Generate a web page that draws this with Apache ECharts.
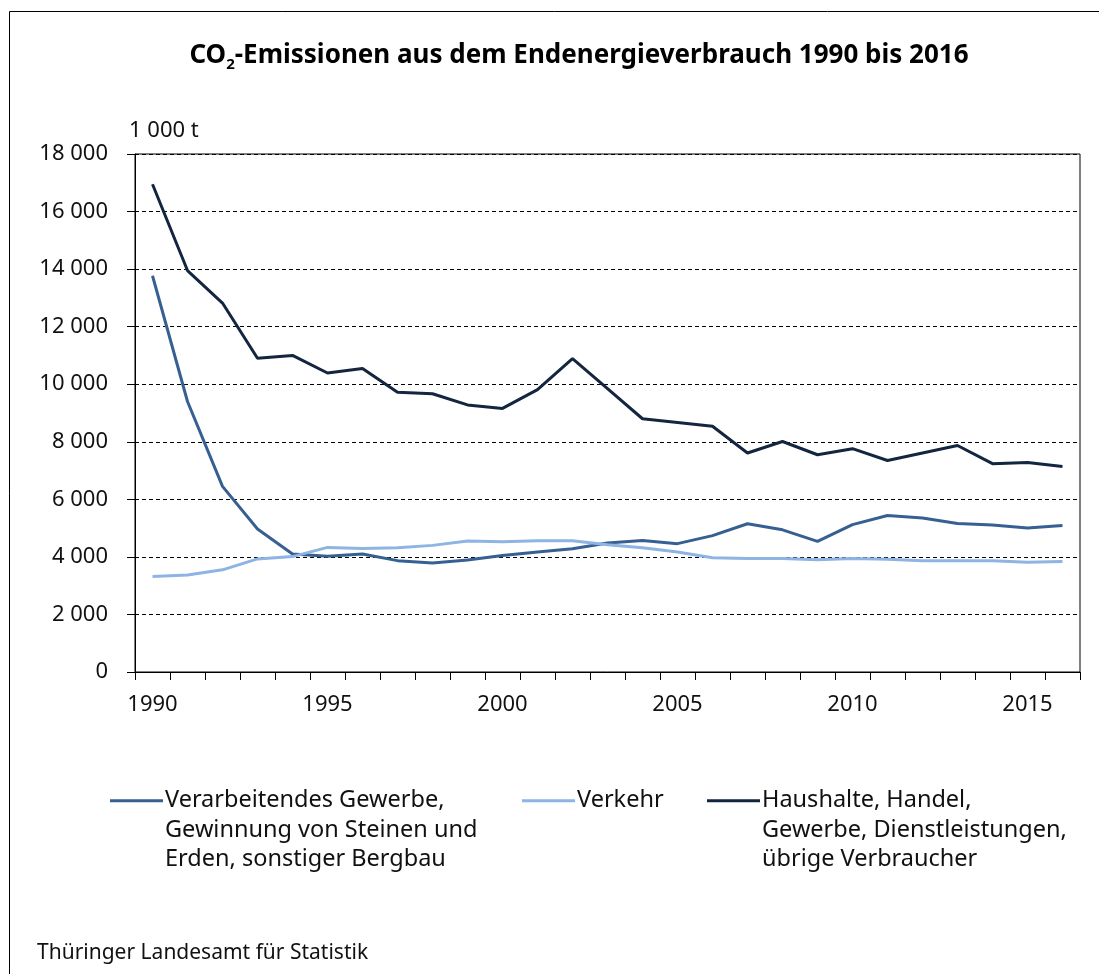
<!DOCTYPE html>
<html>
<head>
<meta charset="utf-8">
<script src="https://cdn.jsdelivr.net/npm/echarts@6/dist/echarts.min.js"></script>
<style>
  html, body { margin: 0; padding: 0; background: #fff; }
  #chart { width: 1099px; height: 974px; }
</style>
</head>
<body>
<div id="chart"></div>
<script>
const years = [];
for (let y = 1990; y <= 2016; y++) years.push(String(y));

// 1 000 t
const gewerbe = [13770, 9400, 6450, 4970, 4100, 4020, 4100, 3870, 3790, 3890,
  4050, 4170, 4280, 4480, 4570, 4460, 4740, 5150, 4940, 4540,
  5120, 5440, 5350, 5160, 5110, 5000, 5090];
const verkehr = [3320, 3370, 3550, 3930, 4010, 4330, 4290, 4320, 4400, 4550,
  4530, 4560, 4560, 4420, 4320, 4170, 3970, 3940, 3940, 3900,
  3940, 3920, 3870, 3870, 3870, 3810, 3840];
const haushalte = [16950, 13950, 12820, 10900, 11000, 10390, 10550, 9720, 9670, 9280,
  9160, 9810, 10890, 9850, 8800, 8670, 8540, 7610, 8010, 7550,
  7760, 7350, 7610, 7870, 7240, 7280, 7140];

const names = [
  'Verarbeitendes Gewerbe,\nGewinnung von Steinen und\nErden, sonstiger Bergbau',
  'Verkehr',
  'Haushalte, Handel,\nGewerbe, Dienstleistungen,\nübrige Verbraucher'
];
const colors = ['#366092', '#8db4e2', '#13253f'];

const FONT = 'Noto Sans';
const fmt = v => String(v).replace(/\B(?=(\d{3})+(?!\d))/g, ' ');

// Icon für mehrzeilige Legende: Linie oben, damit sie an der ersten Zeile sitzt
const topLineIcon = 'path://M0,0H53V3H0Z M0,61.9H0.1V62H0Z';

const myChart = echarts.init(document.getElementById('chart'));

const legendBase = {
  top: 786,
  padding: 0,
  itemGap: 0,
  itemWidth: 53,
  itemHeight: 62,
  icon: topLineIcon,
  selectedMode: false,
  textStyle: { fontFamily: FONT, fontSize: 23.5, color: '#111', lineHeight: 29.5, padding: [0, 0, 0, -3] }
};

const option = {
  animation: false,
  backgroundColor: '#fff',
  title: {
    text: 'CO{sub|2}-Emissionen aus dem Endenergieverbrauch 1990 bis 2016',
    left: 574,
    textAlign: 'center',
    top: 34,
    textStyle: {
      fontFamily: FONT, fontSize: 26, fontWeight: 'bold', color: '#000',
      rich: {
        sub: { fontFamily: FONT, fontSize: 15, fontWeight: 'bold', color: '#000', padding: [18, 0, 0, 0] }
      }
    }
  },
  graphic: [
    { type: 'rect', shape: { x: 9.5, y: 11.5, width: 1200, height: 1100 },
      style: { fill: 'none', stroke: '#000', lineWidth: 1 }, silent: true },
    { type: 'text', left: 37, top: 943,
      style: { text: 'Thüringer Landesamt für Statistik', fontFamily: FONT, fontSize: 21, fill: '#111' } }
  ],
  legend: [
    Object.assign({}, legendBase, { left: 110, data: [names[0]] }),
    Object.assign({}, legendBase, { left: 522, data: [names[1]], icon: 'rect', itemHeight: 3 }),
    Object.assign({}, legendBase, { left: 707, data: [names[2]] })
  ],
  grid: {
    left: 135, right: 19, top: 154, bottom: 302,
    show: true, borderColor: '#000', borderWidth: 1, backgroundColor: 'transparent'
  },
  xAxis: {
    type: 'category',
    data: years,
    boundaryGap: true,
    axisLine: { lineStyle: { color: '#000', width: 1 } },
    axisTick: { show: true, interval: 0, length: 8, lineStyle: { color: '#000' } },
    axisLabel: { interval: 4, margin: 22, fontFamily: FONT, fontSize: 22, color: '#111' },
    splitLine: { show: false }
  },
  yAxis: {
    type: 'value',
    min: 0, max: 18000, interval: 2000,
    name: '1 000 t',
    nameLocation: 'end',
    nameGap: 12,
    nameTextStyle: { fontFamily: FONT, fontSize: 22, color: '#111', align: 'left', padding: [0, 0, 0, -6] },
    axisLine: { show: true, lineStyle: { color: '#000', width: 1 } },
    axisTick: { show: true, length: 8, lineStyle: { color: '#000' } },
    axisLabel: { margin: 27, fontFamily: FONT, fontSize: 22, color: '#111', formatter: fmt },
    splitLine: { show: true, lineStyle: { color: '#000', type: [4, 3], width: 1 } }
  },
  series: [
    { name: names[0], type: 'line', data: gewerbe, color: colors[0] },
    { name: names[1], type: 'line', data: verkehr, color: colors[1] },
    { name: names[2], type: 'line', data: haushalte, color: colors[2] }
  ].map(s => Object.assign(s, {
    symbol: 'none', smooth: false,
    lineStyle: { width: 3, color: s.color },
    itemStyle: { color: s.color },
    emphasis: { disabled: true }
  }))
};

myChart.setOption(option);
window.addEventListener('resize', () => myChart.resize());
</script>
</body>
</html>
